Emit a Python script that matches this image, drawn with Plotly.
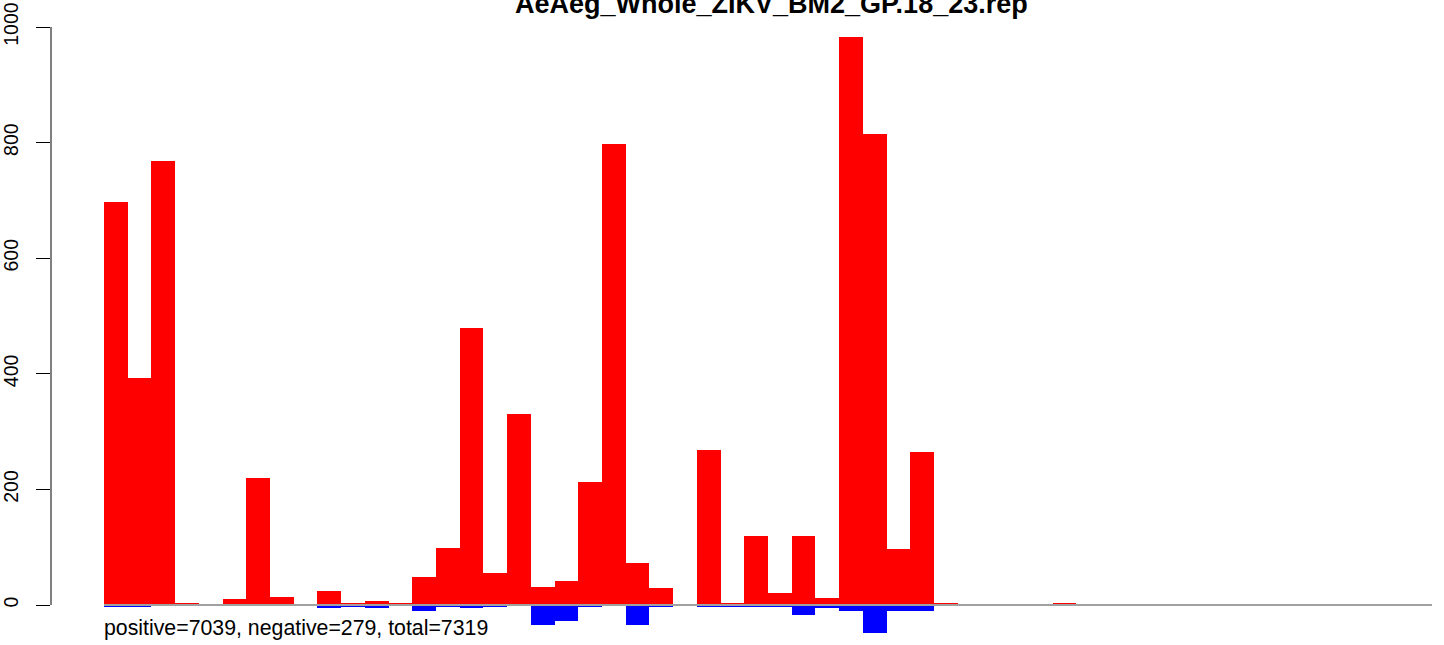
import plotly.graph_objects as go

title_text = "AeAeg_Whole_ZIKV_BM2_GP.18_23.rep"
summary_text = "positive=7039, negative=279, total=7319"

# 56 bins
positive = [697, 393, 768, 2, 0, 10, 220, 14, 0, 24,
            3, 7, 2, 48, 99, 480, 55, 330, 31, 41,
            213, 797, 72, 29, 0, 268, 3, 119, 21, 119,
            12, 982, 815, 97, 265, 2, 0, 0, 0, 0,
            4, 0, 0, 0, 0, 0, 0, 0, 0, 0,
            0, 0, 0, 0, 0, 0]
negative = [-4, -4, -1, 0, 0, -1, -1, -1, -1, -6,
            -2, -6, 0, -10, -3, -6, -4, -1, -35, -28,
            -4, -1, -35, -3, -1, -3, -4, -4, -3, -17,
            -6, -11, -49, -11, -11, -1, 0, 0, -1, 0,
            -1, 0, 0, 0, 0, 0, 0, 0, 0, 0,
            0, 0, 0, 0, -1, -1]
y_ticks = [0, 200, 400, 600, 800, 1000]

n = len(positive)
xs = list(range(n))

W, H = 1444, 645
ml, mr, mt, mb = 51, 0, 27, 0
plot_w = W - ml - mr
plot_h = H - mt - mb
bar_px = 1328 / n
x_left = -0.5 - (104 - ml) / bar_px
x_right = (n - 0.5) + (W - mr - 1432) / bar_px
px_per_unit = 578 / 1000
y_bottom = -((H - mb) - 605) / px_per_unit

fig = go.Figure()
fig.add_trace(go.Scatter(x=[-0.5, n - 0.5], y=[0, 0], mode="lines",
                         line=dict(color="#a0a0a0", width=2),
                         hoverinfo="skip", showlegend=False))
fig.add_trace(go.Bar(x=xs, y=positive, width=1, marker=dict(color="#ff0000", line=dict(width=0)),
                     showlegend=False))
fig.add_trace(go.Bar(x=xs, y=negative, width=1, marker=dict(color="#0000ff", line=dict(width=0)),
                     showlegend=False))

fig.add_shape(type="line", xref="paper", yref="y", x0=0, x1=0,
              y0=y_ticks[0], y1=y_ticks[-1], line=dict(color="black", width=1))

fig.add_annotation(x=-0.5 - 2 / bar_px, y=-39.5, xref="x", yref="y", text=summary_text,
                   showarrow=False, xanchor="left", yanchor="middle",
                   font=dict(family="Liberation Sans, Arial, sans-serif", size=21.3, color="black"))

# title (partly above the page top, as in the reference)
title_cx, title_cy = 771, 4
fig.add_annotation(x=(title_cx - ml) / plot_w, y=1 + (mt - title_cy) / plot_h,
                   xref="paper", yref="paper", text="<b>" + title_text + "</b>",
                   showarrow=False, xanchor="center", yanchor="middle",
                   font=dict(family="Liberation Sans, Arial, sans-serif", size=27, color="black"))

fig.update_layout(
    width=W, height=H,
    margin=dict(l=ml, r=mr, t=mt, b=mb, autoexpand=False),
    paper_bgcolor="white", plot_bgcolor="white",
    barmode="overlay", bargap=0,
    xaxis=dict(range=[x_left, x_right], visible=False),
    yaxis=dict(range=[y_bottom, 1000], tickvals=y_ticks, ticktext=[str(v) for v in y_ticks],
               ticks="outside", ticklen=14, tickwidth=1, tickcolor="black",
               tickangle=-90, showgrid=False, zeroline=False, showline=False,
               ticklabelstandoff=10,
               tickfont=dict(family="Liberation Sans, Arial, sans-serif", size=19.5, color="black")),
)

fig.write_html("out.html", config={"displayModeBar": False},
               post_script="document.body.style.margin='0px';document.body.style.overflow='hidden';")
